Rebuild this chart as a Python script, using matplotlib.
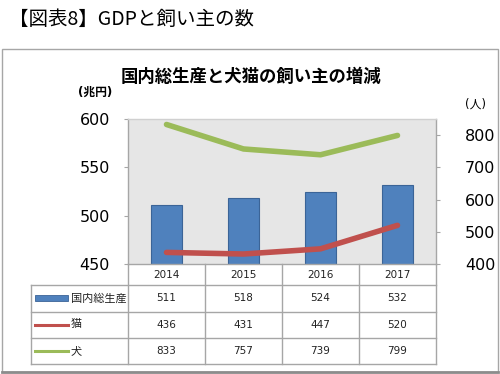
import matplotlib
matplotlib.use("Agg")
import matplotlib.pyplot as plt
from matplotlib import transforms
from matplotlib.lines import Line2D
from matplotlib.patches import Rectangle

plt.rcParams['font.family'] = ['DejaVu Sans', 'Noto Sans CJK JP']

# data
years = ['2014', '2015', '2016', '2017']
gdp = [511, 518, 524, 532]          # 兆円
cats = [436, 431, 447, 520]         # 猫
dogs = [833, 757, 739, 799]         # 犬

series_names = ['国内総生産', '猫', '犬']
series_values = [gdp, cats, dogs]

blue = '#4F81BD'
red = '#C0504D'
green = '#9BBB59'
grid_grey = '#A6A6A6'

fig = plt.figure(figsize=(5, 3.74), dpi=100)

# outer frame
fig.patches.append(Rectangle((0.004, 0.006), 0.992, 0.862, transform=fig.transFigure,
                             fill=False, edgecolor=grid_grey, linewidth=1))
fig.lines.append(Line2D([0.004, 0.996], [0.006, 0.006], transform=fig.transFigure,
                        color='#8C8C8C', linewidth=2))

fig.text(0.018, 1 - 19 / 374, '【図表8】GDPと飼い主の数', fontsize=14, va='center',
         ha='left', family=['Noto Sans CJK JP', 'DejaVu Sans'])
fig.text(0.501, 1 - 77 / 374, '国内総生産と犬猫の飼い主の増減', fontsize=12.5,
         fontweight='bold', va='center', ha='center')
fig.text(95 / 500, 1 - 92 / 374, '(兆円)', fontsize=8.5, fontweight='bold',
         va='center', ha='center')
fig.text(475 / 500, 1 - 104 / 374, '(人)', fontsize=8.5, va='center', ha='center')

ax = fig.add_axes([128 / 500, 1 - 264 / 374, 308 / 500, 145 / 374])
ax.set_facecolor('#E6E6E6')
x = list(range(len(years)))
ax.bar(x, gdp, width=0.41, color=blue, edgecolor='#3B6497', linewidth=0.8, zorder=2)
ax.set_xlim(-0.5, 3.5)
ax.set_ylim(450, 600)
ax.set_yticks([450, 500, 550, 600])
ax.set_xticks([])
ax.tick_params(axis='y', labelsize=11.5, length=3, pad=10, color=grid_grey)
for s in ax.spines.values():
    s.set_color(grid_grey)
    s.set_linewidth(1)
ax.spines['top'].set_color('#D0D0D0')

ax2 = ax.twinx()
ax2.plot(x, cats, color=red, linewidth=4, solid_capstyle='round',
         solid_joinstyle='round')
ax2.plot(x, dogs, color=green, linewidth=4, solid_capstyle='round',
         solid_joinstyle='round')
ax2.set_ylim(400, 850)
ax2.set_yticks([400, 500, 600, 700, 800])
ax2.tick_params(axis='y', labelsize=11.5, length=3, pad=18, color=grid_grey)
for s in ax2.spines.values():
    s.set_visible(False)

# data table under the plot
trans = transforms.blended_transform_factory(ax.transData, ax.transAxes)
h = 145.0
row_edges = [0, -21 / h, -47.5 / h, -73.5 / h, -100 / h]
left_col = -0.5 - (128 - 31) / 77.0


def hline(x0, x1, y):
    ax.add_line(Line2D([x0, x1], [y, y], transform=trans, color=grid_grey,
                       linewidth=1, clip_on=False))


def vline(xv, y0, y1):
    ax.add_line(Line2D([xv, xv], [y0, y1], transform=trans, color=grid_grey,
                       linewidth=1, clip_on=False))


for y in row_edges[1:]:
    hline(left_col, 3.5, y)
for b in [-0.5, 0.5, 1.5, 2.5, 3.5]:
    vline(b, row_edges[0], row_edges[-1])
vline(left_col, row_edges[1], row_edges[-1])

header_y = (row_edges[0] + row_edges[1]) / 2
for i, yr in enumerate(years):
    ax.text(i, header_y, yr, transform=trans, ha='center', va='center',
            fontsize=7.5, color='#222222')

colors = [blue, red, green]
for r, (name, vals, c) in enumerate(zip(series_names, series_values, colors)):
    yc = (row_edges[r + 1] + row_edges[r + 2]) / 2
    for i, v in enumerate(vals):
        ax.text(i, yc, str(v), transform=trans, ha='center', va='center',
                fontsize=7.5, color='#222222')
    k0 = -0.5 - (128 - 35) / 77.0
    k1 = -0.5 - (128 - 68) / 77.0
    if r == 0:
        ax.add_patch(Rectangle((k0, yc - 3 / h), k1 - k0, 6 / h, transform=trans,
                               facecolor=blue, edgecolor='#3B6497', linewidth=0.6,
                               clip_on=False))
    else:
        ax.add_line(Line2D([k0, k1], [yc, yc], transform=trans, color=c,
                           linewidth=2.2, clip_on=False))
    ax.text(-0.5 - (128 - 71) / 77.0, yc, name, transform=trans, ha='left',
            va='center', fontsize=8, color='#222222')

fig.savefig('out.png', dpi=100)
